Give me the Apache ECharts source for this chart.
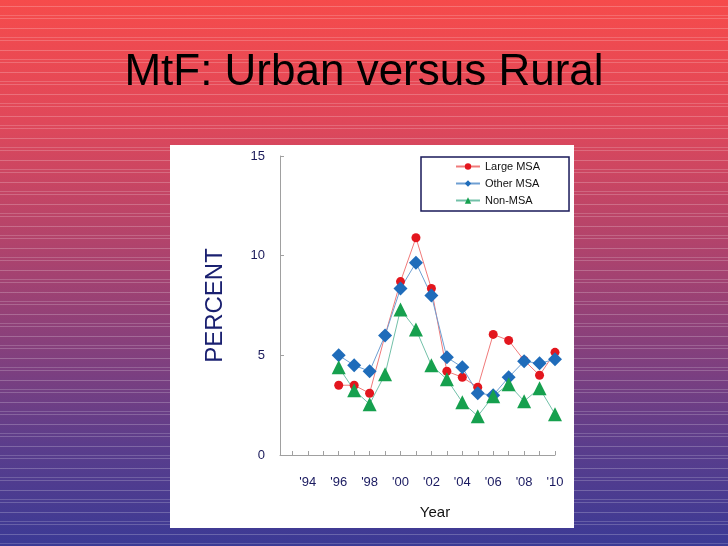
<!DOCTYPE html>
<html>
<head>
<meta charset="utf-8">
<script src="https://cdn.jsdelivr.net/npm/echarts@6/dist/echarts.min.js"></script>
<style>
  html, body { margin: 0; padding: 0; }
  body {
    width: 728px; height: 546px; overflow: hidden; position: relative;
    background:
      repeating-linear-gradient(to bottom, rgba(255,255,255,0) 0px, rgba(255,255,255,0) 6px, rgba(255,255,255,0.22) 6px, rgba(255,255,255,0.22) 7px, rgba(255,255,255,0) 7px, rgba(255,255,255,0) 15px, rgba(255,255,255,0.18) 15px, rgba(255,255,255,0.18) 16px, rgba(255,255,255,0) 16px, rgba(255,255,255,0) 18px, rgba(255,255,255,0.2) 18px, rgba(255,255,255,0.2) 19px, rgba(255,255,255,0) 19px, rgba(255,255,255,0) 22px),
      linear-gradient(to bottom, #f64b4b 0%, #e0485a 22%, #b0436c 45%, #7c3f80 68%, #5a3d8c 82%, #3b3a95 100%);
  }
  #panel { position: absolute; left: 170px; top: 145px; width: 404px; height: 383px; background: #fff; }
  #chart { position: absolute; left: 0; top: 0; width: 728px; height: 546px; }
</style>
</head>
<body>
<div id="panel"></div>
<div id="chart"></div>
<script>
const years = [1996, 1997, 1998, 1999, 2000, 2001, 2002, 2003, 2004, 2005, 2006, 2007, 2008, 2009, 2010];
const largeMSA = [3.5, 3.5, 3.1, 6.0, 8.7, 10.9, 8.35, 4.2, 3.9, 3.4, 6.05, 5.75, 4.75, 4.0, 5.15];
const otherMSA = [5.0, 4.5, 4.2, 6.0, 8.35, 9.65, 8.0, 4.9, 4.4, 3.1, 3.0, 3.9, 4.7, 4.6, 4.8];
const nonMSA   = [4.4, 3.25, 2.55, 4.05, 7.3, 6.3, 4.5, 3.8, 2.65, 1.95, 2.95, 3.55, 2.7, 3.35, 2.05];
const xLabelYears = [1994, 1996, 1998, 2000, 2002, 2004, 2006, 2008, 2010];
const xTickYears = [1993, 1994, 1995, 1996, 1997, 1998, 1999, 2000, 2001, 2002, 2003, 2004, 2005, 2006, 2007, 2008, 2009, 2010];

const pairs = arr => years.map((y, i) => [y, arr[i]]);
const FONT = 'Liberation Sans, Arial, sans-serif';

const chart = echarts.init(document.getElementById('chart'), null, { renderer: 'canvas' });
chart.setOption({
  backgroundColor: 'transparent',
  animation: false,
  title: {
    text: 'MtF: Urban versus Rural',
    left: 'center',
    top: 46,
    textStyle: { fontFamily: FONT, fontSize: 44, fontWeight: 'normal', color: '#000' }
  },
  legend: {
    orient: 'vertical',
    left: 421,
    top: 157,
    padding: [3, 29, 4, 34],
    itemWidth: 24,
    itemHeight: 8,
    itemGap: 4,
    backgroundColor: '#fff',
    borderColor: '#1a1a5a',
    borderWidth: 1.5,
    borderRadius: 0,
    textStyle: { fontFamily: FONT, fontSize: 11, color: '#111', lineHeight: 13 },
    data: ['Large MSA', 'Other MSA', 'Non-MSA']
  },
  grid: { left: 280, right: 173, top: 156, bottom: 91, containLabel: false },
  xAxis: {
    type: 'value',
    min: 1992.2,
    max: 2010,
    name: 'Year',
    nameLocation: 'middle',
    nameGap: 50,
    nameTextStyle: { fontFamily: FONT, fontSize: 15, color: '#111', padding: [0, 0, 0, 35] },
    axisLine: { show: true, lineStyle: { color: '#a0a0a0', width: 1 } },
    axisTick: { show: true, inside: true, length: 4, customValues: xTickYears, lineStyle: { color: '#a0a0a0' } },
    axisLabel: {
      customValues: xLabelYears,
      margin: 21,
      fontFamily: FONT,
      fontSize: 13,
      color: '#1a1a60',
      formatter: v => "'" + String(v).slice(2)
    },
    splitLine: { show: false }
  },
  yAxis: {
    type: 'value',
    min: 0,
    max: 15,
    interval: 5,
    name: 'PERCENT',
    nameLocation: 'middle',
    nameRotate: 90,
    nameGap: 53,
    nameTextStyle: { fontFamily: FONT, fontSize: 24, color: '#1a2070' },
    axisLine: { show: true, lineStyle: { color: '#a0a0a0', width: 1 } },
    axisTick: { show: true, inside: true, length: 4, lineStyle: { color: '#a0a0a0' } },
    axisLabel: {
      margin: 15,
      fontFamily: FONT,
      fontSize: 13,
      color: '#1a1a5a'
    },
    splitLine: { show: false }
  },
  series: [
    {
      name: 'Large MSA', type: 'line', data: pairs(largeMSA),
      symbol: 'circle', symbolSize: 9,
      lineStyle: { color: '#f07a7a', width: 1 },
      itemStyle: { color: '#e3161e' }
    },
    {
      name: 'Other MSA', type: 'line', data: pairs(otherMSA),
      symbol: 'diamond', symbolSize: 14,
      lineStyle: { color: '#6e9fd2', width: 1 },
      itemStyle: { color: '#1f6cba' }
    },
    {
      name: 'Non-MSA', type: 'line', data: pairs(nonMSA),
      symbol: 'triangle', symbolSize: 14,
      lineStyle: { color: '#72c0a8', width: 1 },
      itemStyle: { color: '#16a04e' }
    }
  ]
});
</script>
</body>
</html>
